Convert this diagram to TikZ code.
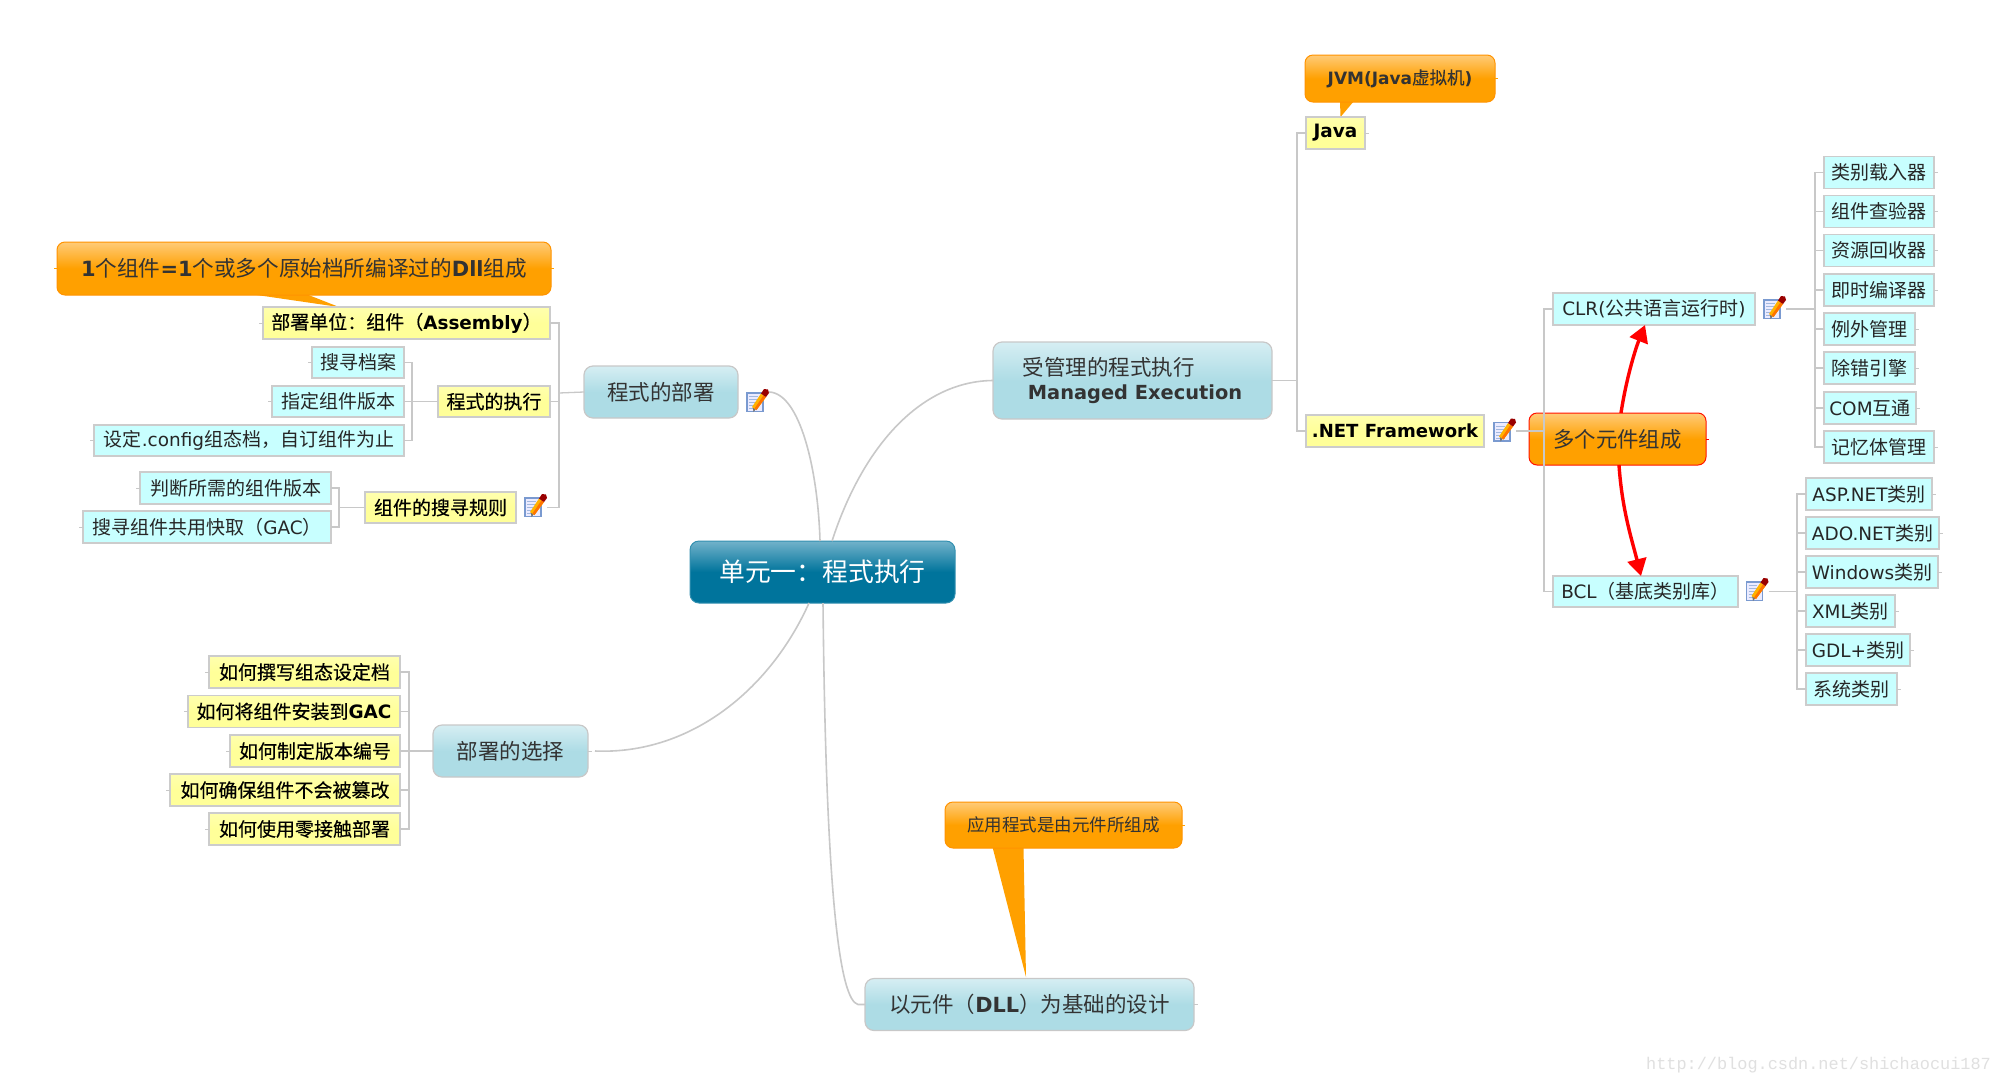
\documentclass[tikz,border=0pt]{standalone}
\usepackage{fontspec}
\setmainfont{Noto Sans CJK SC}
\newfontfamily\latf[Scale=0.97]{DejaVu Sans}
\newfontfamily\cjkfb[FakeBold=0.35]{Noto Sans CJK SC}
\newfontfamily\wmf{Liberation Mono}
\usetikzlibrary{arrows.meta,calc}
\newcommand\la[1]{{\latf #1}}
\newcommand\lb[1]{{\latf\bfseries #1}}
\definecolor{obot}{HTML}{FFA000}\definecolor{otop}{HTML}{FFCB78}
\definecolor{tbot}{HTML}{00749C}\definecolor{ttop}{HTML}{72B2CA}
\definecolor{bbot}{HTML}{ADDCE5}\definecolor{btop}{HTML}{D6EEF3}
\definecolor{ybot}{HTML}{FFFF99}\definecolor{ytop}{HTML}{FFFFC4}
\definecolor{cyanf}{HTML}{C8FFFF}
\definecolor{lineg}{HTML}{C8C8C8}
\definecolor{bordg}{HTML}{CCCCCC}
\definecolor{pageb}{HTML}{7A9AD0}
\pgfdeclareverticalshading{oshade}{100bp}{color(0bp)=(obot);color(50bp)=(obot);color(75bp)=(otop);color(100bp)=(otop)}
\pgfdeclareverticalshading{tshade}{100bp}{color(0bp)=(tbot);color(50bp)=(tbot);color(75bp)=(ttop);color(100bp)=(ttop)}
\pgfdeclareverticalshading{bshade}{100bp}{color(0bp)=(bbot);color(50bp)=(bbot);color(75bp)=(btop);color(100bp)=(btop)}
\pgfdeclareverticalshading{yshade}{100bp}{color(0bp)=(ybot);color(50bp)=(ybot);color(100bp)=(ytop)}
\tikzset{
 x=1pt,y=-1pt,
 every node/.style={inner sep=0pt,outer sep=0pt,align=center},
 conn/.style={draw=lineg,line width=1.3pt},
 curve/.style={draw=lineg,line width=1.6pt},
 tick/.style={draw=lineg,line width=1pt},
 yel/.style={rectangle,draw=bordg,line width=1.2pt,shading=yshade,text=black,font=\cjkfb\fontsize{19}{22}\selectfont},
 cya/.style={rectangle,draw=bordg,line width=1.1pt,fill=cyanf,text=black!85,font=\fontsize{19}{22}\selectfont},
 blu/.style={rectangle,rounded corners=9pt,draw=lineg,line width=1.2pt,shading=bshade,text=black!80,font=\fontsize{21.5}{26}\selectfont},
 ora/.style={rectangle,rounded corners=8pt,draw=orange!85!yellow,line width=1pt,shading=oshade,text=black!80},
 central/.style={rectangle,rounded corners=9pt,draw=tbot!80,line width=1pt,shading=tshade,text=white,font=\fontsize{25.8}{30}\selectfont},
 tailfill/.style={fill=obot,draw=none},
 redarrow/.style={draw=red,line width=3.4pt,-{Triangle[length=17pt,width=19pt]}},
 noteicon/.style={rectangle,minimum width=23pt,minimum height=23pt,path picture={
   \begin{scope}[shift={(path picture bounding box.center)}]
   \fill[pageb] (-11.5,-8.5)rectangle(6,11.5);
   \fill[white!92!blue] (-10,-7)rectangle(4.5,10);
   \foreach \yy in {-4,-1,2,5,8}\draw[pageb!70,line width=1pt](-8.5,\yy)--(0,\yy);
   \fill[black!55] (-4,11.5)--(-1.5,8.5)--(-4.8,6.5)--cycle;
   \fill[orange!60!yellow] (-1,9.5)--(-5.5,6.5)--(3.5,-7)--(8.5,-3.5)--cycle;
   \fill[orange!90!red] (-1,9.5)--(-3,8)--(6,-5.2)--(8.5,-3.5)--cycle;
   \fill[red!60!black] (3.5,-7)--(8.5,-3.5)--(11.5,-7.5)--(10.5,-11)--(6.5,-11.5)--cycle;
   \end{scope}}},
}
\begin{document}
\begin{tikzpicture}
\useasboundingbox (0,0) rectangle (2000,1085);
\fill[white] (0,0) rectangle (2000,1085);
% main nodes
\coordinate (hubA) at (820,541);
\coordinate (hubB) at (832,541);
\coordinate (hubC) at (809,603);
\coordinate (hubD) at (823,603);
\node[central,minimum width=265pt,minimum height=62pt] (root) at (822.5,572) {单元一：程式执行};
\node[blu,minimum width=154pt,minimum height=52pt] (bushu) at (661,392) {程式的部署};
\node[blu,minimum width=155pt,minimum height=52pt] (xuanze) at (510.5,751) {部署的选择};
\node[blu,minimum width=279pt,minimum height=77pt,align=left] (shouguan) at (1132.5,380.5) {\hspace{0pt}受管理的程式执行\\[-2pt]\hspace{5pt}\lb{\fontsize{20}{24}\selectfont Managed Execution}};
\node[blu,minimum width=329pt,minimum height=52pt] (dll) at (1029.5,1004.5) {以元件（\lb{DLL}）为基础的设计};
% callout tails
\fill[tailfill] (250,294)--(306,294)--(339,307)--cycle;
\fill[tailfill] (1340,101)--(1354,101)--(1340.5,117)--cycle;
\fill[tailfill] (992.5,847)--(1023.5,847)--(1026,977)--cycle;
% callouts
\node[ora,minimum width=494pt,minimum height=53pt,font=\fontsize{21.6}{26}\selectfont] (c1) at (304,268.5) {\lb{1}个组件\lb{=1}个或多个原始档所编译过的\lb{Dll}组成};
\node[ora,minimum width=190pt,minimum height=47pt,font=\cjkfb\fontsize{17.5}{20}\selectfont] (c2) at (1400,78.5) {\lb{JVM(Java}虚拟机\lb{)}};
\node[ora,minimum width=237pt,minimum height=46pt,font=\fontsize{17.5}{20}\selectfont] (c3) at (1063.5,825) {应用程式是由元件所组成};
\node[ora,draw=red!85!orange,minimum width=177pt,minimum height=52pt,font=\fontsize{21.4}{26}\selectfont] (duo) at (1617.5,439) {多个元件组成};
% left: deployment branch
\node[yel,minimum width=287pt,minimum height=32pt] (asm) at (406.5,323) {部署单位：组件（\lb{Assembly}）};
\node[yel,minimum width=112pt,minimum height=31pt] (exec) at (494,401.5) {程式的执行};
\node[yel,minimum width=151pt,minimum height=31pt] (rule) at (440.5,507.5) {组件的搜寻规则};
\node[cya,minimum width=92pt,minimum height=31pt] (s1) at (358,362.5) {搜寻档案};
\node[cya,minimum width=132pt,minimum height=31pt] (s2) at (338,401.5) {指定组件版本};
\node[cya,minimum width=310pt,minimum height=31pt] (s3) at (249,440.5) {设定\la{.config}组态档，自订组件为止};
\node[cya,minimum width=191pt,minimum height=32pt] (r1) at (235.5,488) {判断所需的组件版本};
\node[cya,minimum width=248pt,minimum height=32pt] (r2) at (207,527) {搜寻组件共用快取（\la{GAC}）};
\node[noteicon] (n1) at (757.5,400.5) {};
\node[noteicon] (n2) at (535.5,505.5) {};
\coordinate (busA) at (559,393);
\coordinate (busB) at (412,401.5);
\coordinate (busC) at (339,507.5);
\draw[conn] (asm.east) -| (busA);
\draw[conn] (rule.east -| n2.east) -| (busA);
\draw[conn] (exec.east) -- (busA |- exec.east);
\draw[conn] (busA) -- (bushu.west);
\draw[conn] (s1.east) -| (busB);
\draw[conn] (s3.east) -| (busB);
\draw[conn] (s2.east) -- (exec.west);
\draw[conn] (r1.east) -| (busC);
\draw[conn] (r2.east) -| (busC);
\draw[conn] (busC) -- (rule.west);
% left: choice branch
\node[yel,minimum width=191pt,minimum height=32pt] (y1) at (304.5,672) {如何撰写组态设定档};
\node[yel,minimum width=212pt,minimum height=32pt] (y2) at (294,711.5) {如何将组件安装到\lb{GAC}};
\node[yel,minimum width=170pt,minimum height=32pt] (y3) at (315,751) {如何制定版本编号};
\node[yel,minimum width=230pt,minimum height=32pt] (y4) at (285,790) {如何确保组件不会被篡改};
\node[yel,minimum width=191pt,minimum height=32pt] (y5) at (304.5,829) {如何使用零接触部署};
\coordinate (busD) at (409,751);
\draw[conn] (y1.east) -| (busD);
\draw[conn] (y2.east) -| (busD);
\draw[conn] (y4.east) -| (busD);
\draw[conn] (y5.east) -| (busD);
\draw[conn] (y3.east) -- (xuanze.west);
% right: java / .net
\node[yel,minimum width=59pt,minimum height=32pt,font=\fontsize{19}{20}\selectfont] (java) at (1335.5,133) {\lb{Java}};
\node[yel,minimum width=178pt,minimum height=32pt,font=\fontsize{18.6}{20}\selectfont] (net) at (1395,431) {\lb{.NET Framework}};
\node[noteicon] (n3) at (1504.5,430) {};
\node[cya,minimum width=202pt,minimum height=32pt] (clr) at (1654,309) {\la{CLR(}公共语言运行时\la{)}};
\node[cya,minimum width=185pt,minimum height=31pt] (bcl) at (1645.5,591.5) {\la{BCL}（基底类别库）};
\node[noteicon] (n4) at (1774.5,307.5) {};
\node[noteicon] (n5) at (1757,589.5) {};
\coordinate (busE) at (1297,380.5);
\coordinate (busF) at (1544,431);
\coordinate (busG) at (1815,309);
\coordinate (busH) at (1797,591.5);
\draw[conn] (shouguan.east) -- (busE);
\draw[conn] (java.west) -| (busE);
\draw[conn] (net.west) -| (busE);
\draw[conn] (clr.west) -| (busF);
\draw[conn] (bcl.west) -| (busF);
\draw[conn] (n3.east |- busF) -- (busF);
\draw[conn] (n4.east |- busG) -- (busG);
\draw[conn] (n5.east |- busH) -- (busH);
% CLR children
\node[cya,minimum width=110pt,minimum height=32pt] (a1) at (1879,172.5) {类别载入器};
\node[cya,minimum width=110pt,minimum height=32pt] (a2) at (1879,211.5) {组件查验器};
\node[cya,minimum width=110pt,minimum height=32pt] (a3) at (1879,250.5) {资源回收器};
\node[cya,minimum width=110pt,minimum height=32pt] (a4) at (1879,290) {即时编译器};
\node[cya,minimum width=91pt,minimum height=32pt] (a5) at (1869.5,329) {例外管理};
\node[cya,minimum width=91pt,minimum height=32pt] (a6) at (1869.5,368) {除错引擎};
\node[cya,minimum width=92pt,minimum height=32pt] (a7) at (1870,408) {\la{COM}互通};
\node[cya,minimum width=110pt,minimum height=32pt] (a8) at (1879,447) {记忆体管理};
\foreach \k in {1,...,8}{\draw[conn] (a\k.west) -| (busG);}
% BCL children
\node[cya,minimum width=126pt,minimum height=32pt] (b1) at (1869,494) {\la{ASP.NET}类别};
\node[cya,minimum width=133pt,minimum height=32pt] (b2) at (1872.5,533) {\la{ADO.NET}类别};
\node[cya,minimum width=132pt,minimum height=32pt] (b3) at (1872,572) {\la{Windows}类别};
\node[cya,minimum width=89pt,minimum height=32pt] (b4) at (1850.5,611) {\la{XML}类别};
\node[cya,minimum width=104pt,minimum height=32pt] (b5) at (1858,650) {\la{GDL+}类别};
\node[cya,minimum width=91pt,minimum height=32pt] (b6) at (1851.5,689) {系统类别};
\foreach \k in {1,...,6}{\draw[conn] (b\k.west) -| (busH);}
% small stubs on outer sides
\foreach \k in {asm,s1,s2,s3,r1,r2,y1,y2,y3,y4,y5}{\draw[tick] (\k.west) -- ++(-4,0);}
\foreach \k in {java,a1,a2,a3,a4,a5,a6,a7,a8,b1,b2,b3,b4,b5,b6,dll,xuanze}{\draw[tick] (\k.east) -- ++(4,0);}
\draw[draw=obot,line width=1pt] (c1.west) -- ++(-3,0) (c1.east) -- ++(3,0) (c2.east) -- ++(3,0) (c3.east) -- ++(3,0);
\draw[draw=red,line width=1pt] (duo.east) -- ++(3,0);
% big curves from the root
\draw[curve] (n1.east |- bushu.west) .. controls (800,393) and (818,470) .. (hubA);
\draw[curve] (shouguan.west) .. controls (925,381) and (865,440) .. (hubB);
\draw[curve] (xuanze.east) ++(7,0) .. controls (690,755) and (770,690) .. (hubC);
\draw[curve] (dll.west) -- ++(-7,0) .. controls (840,1000) and (826,900) .. (hubD);
% red relations
\draw[redarrow] (duo.north -| 1621,0) .. controls (1626,380) and (1635,350) .. (clr.south -| 1645,0);
\draw[redarrow] (duo.south -| 1619,0) .. controls (1622,510) and (1632,540) .. (bcl.north -| 1641,0);
% watermark
\node[text=black!12!white,font=\wmf\fontsize{16.9}{20}\selectfont] (wm) at (1818.5,1065) {http://blog.csdn.net/shichaocui187};
\end{tikzpicture}
\end{document}
